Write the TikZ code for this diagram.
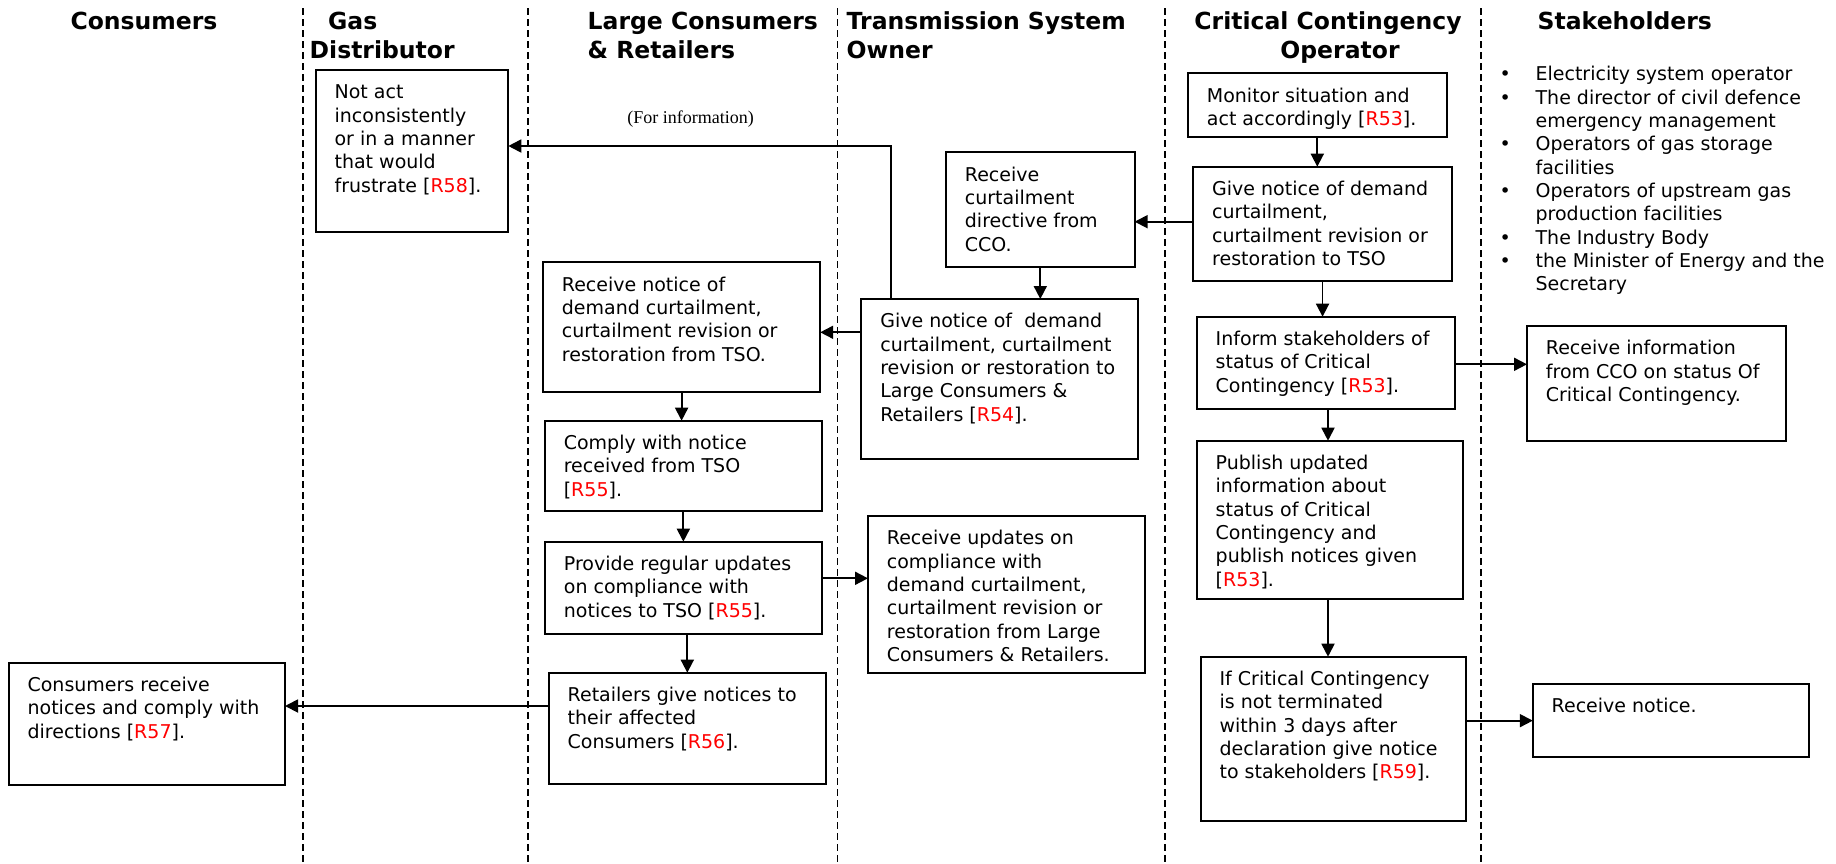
\documentclass[tikz,border=0pt]{standalone}
\usepackage{fontspec}
\setmainfont{DejaVu Sans}
\newfontfamily\infofont{Liberation Serif}
\usetikzlibrary{arrows.meta}
\newcommand{\rf}[1]{[\textcolor{red}{#1}]}
\newcommand{\flowbox}[6]{%
  \node[box, minimum width={#4-#2}, minimum height={#5-#3}] (#1) at (#2,#3) {};
  \node[txt] (#1-t) at ([xshift=18.7pt, yshift=-28.8pt]#1.north west) {\parbox[t]{330pt}{#6}};}
\tikzset{
  box/.style={draw, line width=2pt, inner sep=0pt, outer sep=0pt, anchor=north west},
  txt/.style={anchor=base west, inner sep=0pt, font=\fontsize{19}{23.35}\selectfont},
  ttl/.style={inner sep=0pt, font=\fontsize{23.5}{29}\selectfont\bfseries},
  lane/.style={line width=1.7pt, dash pattern=on 7pt off 4pt},
  arr/.style={line width=1.8pt, -{Triangle[length=13pt,width=13pt]}}
}
\begin{document}
\begin{tikzpicture}[x=1pt,y=-1pt]
\useasboundingbox[fill=white] (0,0) rectangle (1836,863);

% lane separators
\foreach \lx in {303.3,527.7,837.6,1165,1480.7}
  \draw[lane] (\lx,8) -- (\lx,863);

% titles
\node[ttl, anchor=base] (h1) at (144,29.3) {Consumers};
\node[ttl, anchor=base west] (h2a) at (328,29.3) {Gas};
\node[ttl, anchor=base west] (h2b) at (309.5,58.3) {Distributor};
\node[ttl, anchor=base west] (h3a) at (587.5,29.3) {Large Consumers};
\node[ttl, anchor=base west] (h3b) at (587.5,58.3) {\& Retailers};
\node[ttl, anchor=base west] (h4a) at (846.5,29.3) {Transmission System};
\node[ttl, anchor=base west] (h4b) at (846.5,58.3) {Owner};
\node[ttl, anchor=base] (h5a) at (1328,29.3) {Critical Contingency};
\node[ttl, anchor=base] (h5b) at (1340,58.3) {Operator};
\node[ttl, anchor=base west] (h6) at (1537.5,29.3) {Stakeholders};

% stakeholders list
\node[txt] (slist) at (1499.4,80.7) {\parbox[t]{340pt}{%
\makebox[36pt][l]{•}Electricity system operator\\
\makebox[36pt][l]{•}The director of civil defence\\
\makebox[36pt][l]{}emergency management\\
\makebox[36pt][l]{•}Operators of gas storage\\
\makebox[36pt][l]{}facilities\\
\makebox[36pt][l]{•}Operators of upstream gas\\
\makebox[36pt][l]{}production facilities\\
\makebox[36pt][l]{•}The Industry Body\\
\makebox[36pt][l]{•}the Minister of Energy and the\\
\makebox[36pt][l]{}Secretary}};

% boxes
\flowbox{gd1}{315.7}{70}{508.3}{231.7}{Not act\\inconsistently\\or in a manner\\that would\\frustrate \rf{R58}.}
\flowbox{tso1}{946}{152.3}{1134.6}{266.7}{Receive\\curtailment\\directive from\\CCO.}
\flowbox{cco1}{1188}{73.3}{1446.6}{137.3}{Monitor situation and\\act accordingly \rf{R53}.}
\flowbox{cco2}{1193.3}{166.7}{1451.8}{280.7}{Give notice of demand\\curtailment,\\curtailment revision or\\restoration to TSO}
\flowbox{tso2}{861.4}{299}{1137.8}{459.3}{Give notice of\ \ demand\\curtailment, curtailment\\revision or restoration to\\Large Consumers \&\\Retailers \rf{R54}.}
\flowbox{lc1}{543}{262.3}{820.2}{391.7}{Receive notice of\\demand curtailment,\\curtailment revision or\\restoration from TSO.}
\flowbox{lc2}{544.9}{420.7}{821.8}{511.3}{Comply with notice\\received from TSO\\\rf{R55}.}
\flowbox{lc3}{545}{541.7}{821.8}{634.3}{Provide regular updates\\on compliance with\\notices to TSO \rf{R55}.}
\flowbox{tso3}{868}{516}{1145.3}{673.3}{Receive updates on\\compliance with\\demand curtailment,\\curtailment revision or\\restoration from Large\\Consumers \& Retailers.}
\flowbox{lc4}{548.8}{672.7}{825.8}{784.3}{Retailers give notices to\\their affected\\Consumers \rf{R56}.}
\flowbox{c1}{8.7}{662.7}{285}{785}{Consumers receive\\notices and comply with\\directions \rf{R57}.}
\flowbox{cco3}{1196.8}{316.7}{1455.3}{408.7}{Inform stakeholders of\\status of Critical\\Contingency \rf{R53}.}
\flowbox{s1}{1527}{326}{1785.6}{440.7}{Receive information\\from CCO on status Of\\Critical Contingency.}
\flowbox{cco4}{1196.8}{440.7}{1463.2}{599.3}{Publish updated\\information about\\status of Critical\\Contingency and\\publish notices given\\\rf{R53}.}
\flowbox{cco5}{1200.7}{656.7}{1466.3}{820.7}{If Critical Contingency\\is not terminated\\within 3 days after\\declaration give notice\\to stakeholders \rf{R59}.}
\flowbox{s2}{1532.8}{684}{1809.2}{757.3}{Receive notice.}

% info label
\node[inner sep=0pt, font=\infofont\fontsize{18}{21}\selectfont, anchor=base] (info) at (690.5,123.5) {(For information)};

% connectors
\draw[arr] (890.6,0 |- tso2.north) |- (gd1.east |- 0,146);
\draw[arr] (cco1.south) -- (cco1.south |- cco2.north);
\draw[arr] (cco2.west |- 0,221.7) -- (tso1.east |- 0,221.7);
\draw[arr] (tso1.south) -- (tso1.south |- tso2.north);
\draw[arr] (tso2.west |- 0,332.3) -- (lc1.east |- 0,332.3);
\draw[arr] (lc1.south) -- (lc1.south |- lc2.north);
\draw[arr] (lc2.south) -- (lc2.south |- lc3.north);
\draw[arr] (lc3.east |- 0,578.3) -- (tso3.west |- 0,578.3);
\draw[arr] (lc4.north |- lc3.south) -- (lc4.north);
\draw[arr] (lc4.west |- 0,706) -- (c1.east |- 0,706);
\draw[arr] (cco2.south) -- (cco2.south |- cco3.north);
\draw[arr] (cco3.east |- 0,364.3) -- (s1.west |- 0,364.3);
\draw[arr] (1328,0 |- cco3.south) -- (1328,0 |- cco4.north);
\draw[arr] (1328,0 |- cco4.south) -- (1328,0 |- cco5.north);
\draw[arr] (cco5.east |- s2.west) -- (s2.west);
\end{tikzpicture}
\end{document}
